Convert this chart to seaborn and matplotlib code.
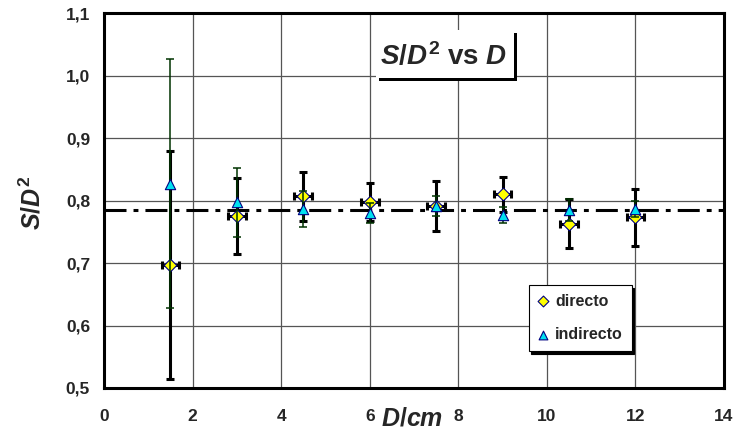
import numpy as np
import pandas as pd
import matplotlib
matplotlib.use("Agg")
import matplotlib.pyplot as plt
import seaborn as sns
from matplotlib.patches import Rectangle
from matplotlib.ticker import FuncFormatter

# ---- data ----
D_cm = [1.5, 3.0, 4.5, 6.0, 7.5, 9.0, 10.5, 12.0]
directo = [0.697, 0.775, 0.807, 0.798, 0.792, 0.810, 0.763, 0.773]
directo_err = [0.183, 0.061, 0.039, 0.030, 0.040, 0.028, 0.039, 0.046]
directo_xerr = [0.2, 0.2, 0.2, 0.2, 0.2, 0.2, 0.2, 0.2]
indirecto = [0.827, 0.797, 0.786, 0.780, 0.792, 0.777, 0.785, 0.786]
indirecto_err = [0.199, 0.055, 0.029, 0.016, 0.016, 0.013, 0.017, 0.013]
ref_value = 0.785  # pi/4
series_names = ["directo", "indirecto"]
x_ticks = [0, 2, 4, 6, 8, 10, 12, 14]
y_ticks = [0.5, 0.6, 0.7, 0.8, 0.9, 1.0, 1.1]

df_dir = pd.DataFrame({"D": D_cm, "v": directo})
df_ind = pd.DataFrame({"D": D_cm, "v": indirecto})

sns.set_style("white")
plt.rcParams["font.family"] = ["Liberation Sans", "DejaVu Sans"]
plt.rcParams["mathtext.fontset"] = "custom"
plt.rcParams["mathtext.it"] = "Liberation Sans:italic:bold"
plt.rcParams["mathtext.rm"] = "Liberation Sans:bold"
plt.rcParams["mathtext.bf"] = "Liberation Sans:bold"

W, H = 733, 441
fig = plt.figure(figsize=(W / 100, H / 100), dpi=100)
fig.patch.set_facecolor("white")
ax = fig.add_axes([104 / W, 1 - 388 / H, 620 / W, 375 / H])

# grid
ax.set_axisbelow(True)
ax.grid(True, color="#555555", linewidth=0.9)

# reference line
ax.axhline(ref_value, color="black", linewidth=2.2,
           linestyle=(0, (7.2, 2.3, 1.6, 2.3)), zorder=2)

# directo error bars
ax.errorbar(D_cm, directo, yerr=directo_err, xerr=directo_xerr, fmt="none",
            ecolor="black", elinewidth=2.2, capsize=3.0, capthick=2.2, zorder=3)
sns.scatterplot(data=df_dir, x="D", y="v", marker="D", s=42, color="#FFFF00",
                edgecolor="#000080", linewidth=0.8, zorder=4, ax=ax,
                label=series_names[0])
# indirecto
ax.errorbar(D_cm, indirecto, yerr=indirecto_err, fmt="none",
            ecolor="#003300", elinewidth=1.1, capsize=3.0, capthick=1.1, zorder=5)
sns.scatterplot(data=df_ind, x="D", y="v", marker="^", s=55, color="#00E0F0",
                edgecolor="#000080", linewidth=0.8, zorder=6, ax=ax,
                label=series_names[1])

ax.set_xlim(0, 14)
ax.set_ylim(0.5, 1.1)
ax.set_xticks(x_ticks)
ax.set_yticks(y_ticks)
ax.yaxis.set_major_formatter(FuncFormatter(lambda v, p: f"{v:.1f}".replace(".", ",")))
ax.tick_params(axis="both", direction="out", length=4, width=1, color="black",
               labelsize=12.5)
ax.tick_params(axis="x", pad=11)
ax.tick_params(axis="y", pad=6)
for lab in ax.get_xticklabels() + ax.get_yticklabels():
    lab.set_fontweight("bold")

for sp in ax.spines.values():
    sp.set_visible(True)
    sp.set_color("black")
    sp.set_linewidth(2.2)

ax.set_xlabel(r"$\mathit{D/cm}$", fontsize=18)
ax.set_ylabel(r"$\mathit{S/D}^{2}$", fontsize=18)
ax.xaxis.set_label_coords(0.497, -0.05)
ax.yaxis.set_label_coords(-0.094, 0.493)

# title box with shadow
ax.add_patch(Rectangle((0.444, 0.819), 0.222, 0.128, transform=ax.transAxes,
                       facecolor="black", edgecolor="none", zorder=7))
ax.add_patch(Rectangle((0.439, 0.827), 0.222, 0.128, transform=ax.transAxes,
                       facecolor="white", edgecolor="none", zorder=8))
ax.text(0.547, 0.885, r"$\mathit{S/D}^{2}$ vs $\mathit{D}$",
        transform=ax.transAxes, ha="center", va="center", fontsize=20,
        fontweight="bold", zorder=9)

# legend
leg = ax.legend(loc="upper left", bbox_to_anchor=(0.685, 0.275), frameon=True,
                fancybox=False, edgecolor="black", framealpha=1,
                shadow={"color": "black", "alpha": 1}, borderaxespad=0,
                prop={"weight": "bold", "size": 11.5}, handlelength=0.7,
                handletextpad=0.4, labelspacing=1.15, borderpad=0.55,
                markerscale=0.85)
leg.get_frame().set_linewidth(0.8)
leg.set_zorder(10)

fig.savefig("out.png", dpi=100)
